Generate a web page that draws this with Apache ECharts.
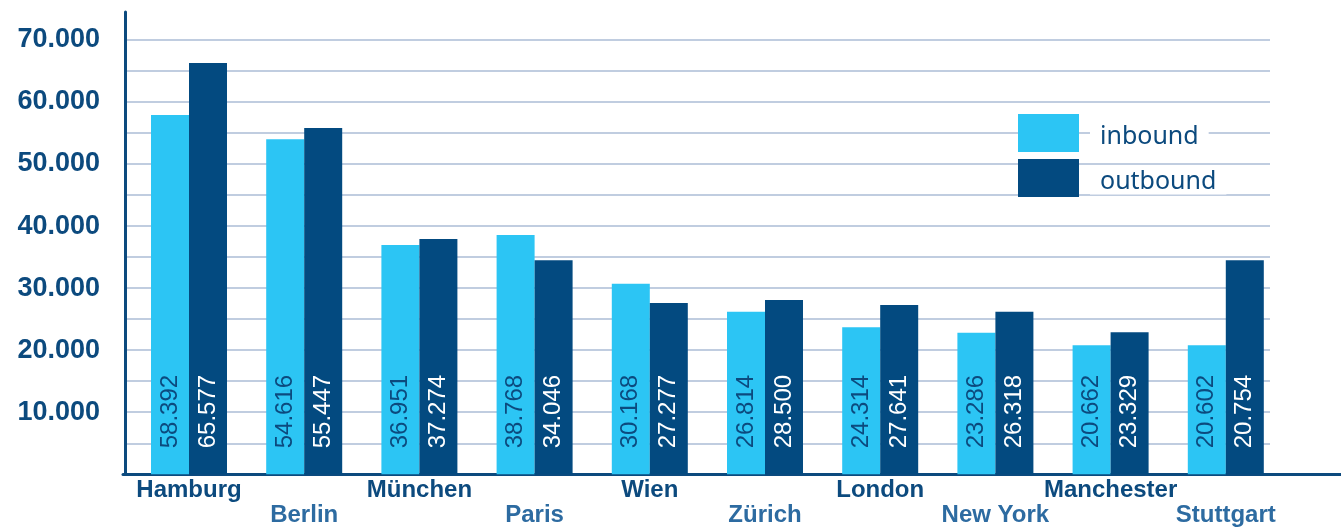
<!DOCTYPE html>
<html>
<head>
<meta charset="utf-8">
<script src="https://cdn.jsdelivr.net/npm/echarts@6/dist/echarts.min.js"></script>
<style>
  html, body { margin: 0; padding: 0; background: #fff; }
  #chart { width: 1341px; height: 527px; }
</style>
</head>
<body>
<div id="chart"></div>
<script>
// Städte
const cities = ['Hamburg', 'Berlin', 'München', 'Paris', 'Wien', 'Zürich', 'London', 'New York', 'Manchester', 'Stuttgart'];
// Balkenhöhen
const inbound = [57900, 54000, 36950, 38570, 30700, 26200, 23700, 22800, 20800, 20800];
const outbound = [66300, 55800, 37900, 34500, 27600, 28100, 27300, 26200, 22900, 34500];
// Beschriftungen in den Balken
const inboundLabels = ['58.392', '54.616', '36.951', '38.768', '30.168', '26.814', '24.314', '23.286', '20.662', '20.602'];
const outboundLabels = ['65.577', '55.447', '37.274', '34.046', '27.277', '28.500', '27.641', '26.318', '23.329', '20.754'];
const yTicks = [10000, 20000, 30000, 40000, 50000, 60000, 70000];

const dark = '#0c4a7e';
const gridColors = [];
for (let i = 0; i < 15; i++) gridColors.push('#abbdd6');
gridColors.push('rgba(0,0,0,0)');

const chart = echarts.init(document.getElementById('chart'));
const yMax = 74500;

function barLabel(texts, color) {
  return {
    show: true,
    position: 'insideBottom',
    rotate: 90,
    align: 'left',
    verticalAlign: 'middle',
    distance: 26,
    color: color,
    fontFamily: 'Liberation Sans',
    fontSize: 24,
    formatter: p => texts[p.dataIndex]
  };
}

chart.setOption({
  animation: false,
  legend: {
    orient: 'vertical',
    left: 1018,
    top: 114,
    padding: 0,
    itemWidth: 61,
    itemHeight: 38,
    itemGap: 7,
    icon: 'rect',
    formatter: name => '{t|' + name + '}',
    textStyle: {
      padding: [8, 0, 0, 6],
      rich: {
        t: {
          backgroundColor: '#fff',
          padding: [0, 10, 0, 10],
          lineHeight: 22,
          color: dark,
          fontFamily: 'Noto Sans',
          fontSize: 25
        }
      }
    },
    data: ['inbound', 'outbound']
  },
  grid: [
    { left: 125, right: 71, top: 12, bottom: 52.7, outerBoundsMode: 'none' },
    { left: 131.4, right: 57.6, top: 12, bottom: 52.7, outerBoundsMode: 'none' },
    { left: 123, right: 0, top: 12, bottom: 52.7, outerBoundsMode: 'none' }
  ],
  xAxis: [
    { gridIndex: 0, type: 'value', show: false },
    {
      gridIndex: 1,
      type: 'category',
      data: cities,
      axisLine: { show: false },
      axisTick: { show: false },
      axisLabel: {
        interval: 0,
        margin: 4,
        lineHeight: 25,
        fontSize: 24,
        formatter: (v, i) => i % 2 ? '\n{b|' + v + '}' : '{a|' + v + '}',
        rich: {
          a: { color: dark, fontFamily: 'Liberation Sans', fontWeight: 'bold', fontSize: 24, lineHeight: 25 },
          b: { color: '#2d6ba1', fontFamily: 'Liberation Sans', fontWeight: 'bold', fontSize: 24, lineHeight: 25 }
        }
      }
    },
    {
      gridIndex: 2,
      type: 'value',
      axisLine: { show: true, lineStyle: { color: dark, width: 3 } },
      axisTick: { show: false },
      axisLabel: { show: false },
      splitLine: { show: false }
    }
  ],
  yAxis: [
    {
      gridIndex: 0,
      type: 'value',
      min: 0,
      max: yMax,
      interval: 5000,
      axisLine: { show: true, lineStyle: { color: dark, width: 3 } },
      axisTick: { show: false },
      axisLabel: {
        margin: 25,
        color: dark,
        fontFamily: 'Liberation Sans',
        fontWeight: 'bold',
        fontSize: 27,
        formatter: v => yTicks.indexOf(v) >= 0 ? (v / 1000) + '.000' : ''
      },
      splitLine: { show: true, lineStyle: { color: gridColors, width: 1.5 } }
    },
    { gridIndex: 1, type: 'value', min: 0, max: yMax, show: false },
    { gridIndex: 2, type: 'value', min: 0, max: yMax, show: false }
  ],
  series: [
    {
      name: 'inbound',
      type: 'bar',
      xAxisIndex: 1,
      yAxisIndex: 1,
      barWidth: 38,
      barGap: '0%',
      itemStyle: { color: '#2cc5f4' },
      label: barLabel(inboundLabels, dark),
      data: inbound
    },
    {
      name: 'outbound',
      type: 'bar',
      xAxisIndex: 1,
      yAxisIndex: 1,
      barWidth: 38,
      barGap: '0%',
      itemStyle: { color: '#034a80' },
      label: barLabel(outboundLabels, '#ffffff'),
      data: outbound
    }
  ]
});
</script>
</body>
</html>
